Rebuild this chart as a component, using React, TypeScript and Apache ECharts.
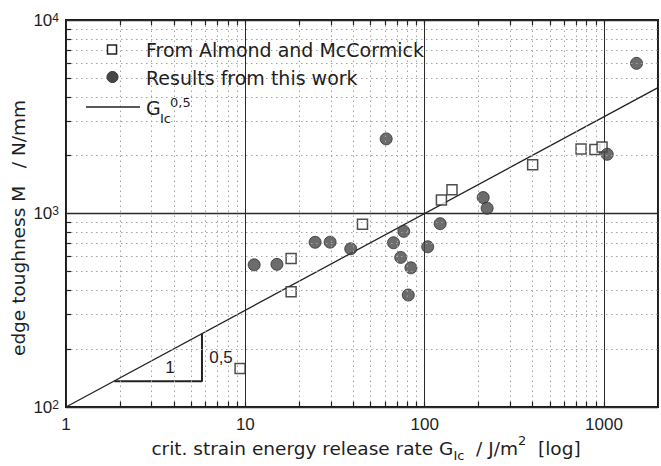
import React, { useEffect, useRef } from "react";
import * as echarts from "echarts";

// Data (log-log)
const almondG = [9.35, 18, 18, 45, 124, 142, 400, 745, 890, 975];
const almondM = [158, 586, 394, 881, 1175, 1325, 1787, 2153, 2144, 2208];
const thisWorkG = [11.2, 15.0, 24.5, 29.7, 38.7, 67, 76.4, 73.5, 83.8, 81, 104, 122, 61, 212, 223, 1042, 1518];
const thisWorkM = [543, 546, 710, 711, 657, 706, 809, 593, 524, 379, 673, 886, 2430, 1209, 1065, 2023, 5970];
const fitG = [1, 2000];
const fitM = [100, 4472];
const slopeG = [1.86, 5.73, 5.73];
const slopeM = [136, 136, 239];
const xDecades = [1, 10, 100];
const yDecades = [100, 1000];
const minorMultipliers = [2, 3, 4, 5, 6, 7, 8, 9];
const xMinor: number[] = [];
xDecades.forEach((d) => minorMultipliers.forEach((m) => xMinor.push(d * m)));
const yMinor: number[] = [];
yDecades.forEach((d) => minorMultipliers.forEach((m) => yMinor.push(d * m)));

const TXT = "#1e1e1e";
const TITLE_FONT = "DejaVu Sans";
const TICK_FONT = "Liberation Sans";

const isPow10 = (v: number) => Math.abs(Math.log10(v) - Math.round(Math.log10(v))) < 1e-6;

export default function App() {
  const ref = useRef<HTMLDivElement>(null);
  useEffect(() => {
    document.body.style.margin = "0";
    if (!ref.current) return;
    const chart = echarts.init(ref.current, null, { renderer: "svg" });

    const minorLines: any[] = [];
    xMinor.forEach((v) => minorLines.push({ xAxis: v }));
    yMinor.forEach((v) => minorLines.push({ yAxis: v }));

    const tickLines: any[] = [];
    xMinor.concat([10, 100, 1000]).forEach((v) => {
      tickLines.push([{ coord: [v, 100] }, { coord: [v, 106.5] }]);
      tickLines.push([{ coord: [v, 10000] }, { coord: [v, 9390] }]);
    });
    yMinor.forEach((v) => {
      tickLines.push([{ coord: [1, v] }, { coord: [1.067, v] }]);
    });

    chart.setOption({
      animation: false,
      backgroundColor: "#fff",
      grid: {
        left: 66,
        right: -6,
        top: 20,
        bottom: 59,
        show: true,
        borderColor: "#1a1a1a",
        borderWidth: 2,
        backgroundColor: "transparent",
      },
      xAxis: {
        type: "log",
        logBase: 10,
        min: 1,
        max: 2000,
        axisLine: { show: false },
        axisTick: { show: false },
        axisLabel: {
          fontFamily: TICK_FONT,
          fontSize: 17,
          color: TXT,
          margin: 9,
          formatter: (v: number) => (isPow10(v) ? String(Math.round(v)) : ""),
        },
        splitLine: { show: true, lineStyle: { color: "#2a2a2a", width: 1, type: "solid" } },
      },
      yAxis: {
        type: "log",
        logBase: 10,
        min: 100,
        max: 10000,
        axisLine: { show: false },
        axisTick: { show: false },
        axisLabel: {
          fontFamily: TICK_FONT,
          fontSize: 17,
          color: TXT,
          margin: 7,
          formatter: (v: number) => "10{s|" + Math.round(Math.log10(v)) + "}",
          rich: {
            s: { fontSize: 12, fontFamily: TICK_FONT, color: TXT, verticalAlign: "top", lineHeight: 12, padding: [0, 0, 8, 0] },
          },
        },
        splitLine: { show: true, lineStyle: { color: "#2a2a2a", width: 1.3, type: "solid" } },
      },
      series: [
        {
          name: "minor grid",
          type: "line",
          data: [],
          silent: true,
          z: 1,
          markLine: {
            silent: true,
            symbol: "none",
            label: { show: false },
            lineStyle: { color: "#a3a3a3", width: 1, type: [1.5, 3.5] },
            data: minorLines,
            animation: false,
          },
        },
        {
          name: "ticks",
          type: "line",
          data: [],
          silent: true,
          z: 2,
          markLine: {
            silent: true,
            symbol: "none",
            label: { show: false },
            lineStyle: { color: "#222", width: 1.2, type: "solid" },
            data: tickLines,
            animation: false,
          },
        },
        {
          name: "G_Ic^0,5",
          type: "line",
          data: fitG.map((g, i) => [g, fitM[i]]),
          symbol: "none",
          lineStyle: { color: "#222", width: 1.3 },
          z: 3,
        },
        {
          name: "slope",
          type: "line",
          data: slopeG.map((g, i) => [g, slopeM[i]]),
          symbol: "none",
          lineStyle: { color: "#222", width: 2 },
          z: 3,
        },
        {
          name: "From Almond and McCormick",
          type: "scatter",
          data: almondG.map((g, i) => [g, almondM[i]]),
          symbol: "rect",
          symbolSize: 10,
          itemStyle: { color: "#fff", borderColor: "#222", borderWidth: 1.5 },
          z: 4,
        },
        {
          name: "Results from this work",
          type: "scatter",
          data: thisWorkG.map((g, i) => [g, thisWorkM[i]]),
          symbol: "circle",
          symbolSize: 12,
          itemStyle: { color: "#474747", borderColor: "#2e2e2e", borderWidth: 1 },
          z: 4,
        },
      ],
      graphic: [
        // legend
        { type: "rect", shape: { x: 107.5, y: 45, width: 9, height: 9 }, style: { fill: "#fff", stroke: "#222", lineWidth: 1.5 }, z: 10 },
        { type: "circle", shape: { cx: 112.5, cy: 77, r: 5.5 }, style: { fill: "#474747", stroke: "#2e2e2e", lineWidth: 1 }, z: 10 },
        { type: "line", shape: { x1: 86, y1: 107, x2: 140, y2: 107 }, style: { stroke: "#222", lineWidth: 1.3 }, z: 10 },
        { type: "text", x: 146, y: 50, style: { text: "From Almond and McCormick", fontFamily: TITLE_FONT, fontSize: 19, fill: TXT, verticalAlign: "middle", align: "left" }, z: 10 },
        { type: "text", x: 146, y: 78, style: { text: "Results from this work", fontFamily: TITLE_FONT, fontSize: 19, fill: TXT, verticalAlign: "middle", align: "left" }, z: 10 },
        { type: "text", x: 146, y: 108, style: { text: "G", fontFamily: TITLE_FONT, fontSize: 19, fill: TXT, verticalAlign: "middle", align: "left" }, z: 10 },
        { type: "text", x: 160, y: 118, style: { text: "Ic", fontFamily: TITLE_FONT, fontSize: 13, fill: TXT, verticalAlign: "middle", align: "left" }, z: 10 },
        { type: "text", x: 170, y: 102, style: { text: "0,5", fontFamily: TITLE_FONT, fontSize: 13, fill: TXT, verticalAlign: "middle", align: "left" }, z: 10 },
        // slope triangle labels
        { type: "text", x: 170, y: 367, style: { text: "1", fontFamily: TICK_FONT, fontSize: 17, fill: TXT, verticalAlign: "middle", align: "center" }, z: 10 },
        { type: "text", x: 221, y: 357, style: { text: "0,5", fontFamily: TICK_FONT, fontSize: 17, fill: TXT, verticalAlign: "middle", align: "center" }, z: 10 },
        // axis titles
        {
          type: "text",
          x: 18,
          y: 228,
          rotation: Math.PI / 2,
          style: { text: "edge toughness M   / N/mm", fontFamily: TITLE_FONT, fontSize: 18.5, fill: TXT, verticalAlign: "middle", align: "center" },
          z: 10,
        },
        {
          type: "text",
          x: 366,
          y: 448,
          style: {
            text: "crit. strain energy release rate G{sub|Ic}  / J/m{sup|2}  [log]",
            fontFamily: TITLE_FONT,
            fontSize: 18.5,
            lineHeight: 28,
            fill: TXT,
            verticalAlign: "middle",
            align: "center",
            rich: {
              sub: { fontFamily: TITLE_FONT, fontSize: 13, fill: TXT, verticalAlign: "bottom", lineHeight: 13 },
              sup: { fontFamily: TITLE_FONT, fontSize: 13, fill: TXT, verticalAlign: "top", lineHeight: 13 },
            },
          },
          z: 10,
        },
      ],
    });
    return () => chart.dispose();
  }, []);
  return <div ref={ref} style={{ width: 661, height: 466 }} />;
}
